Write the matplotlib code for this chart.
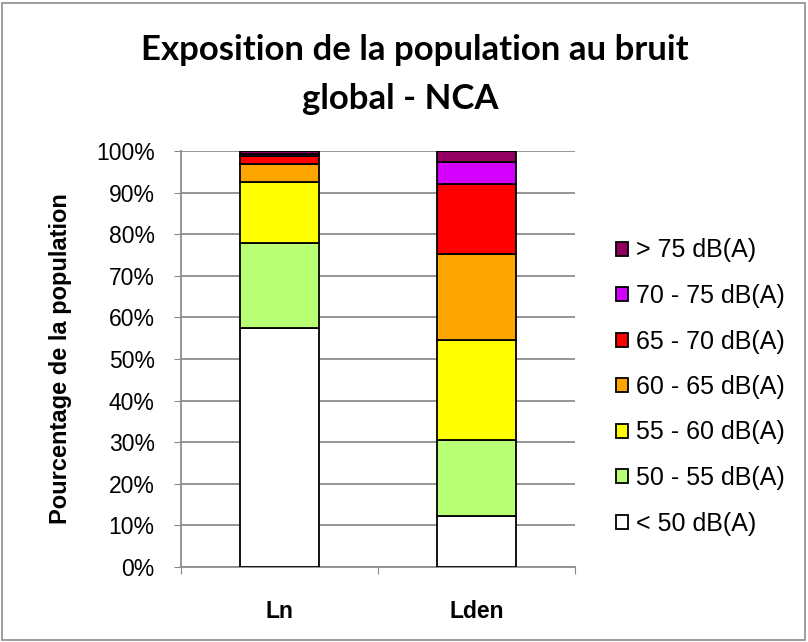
import numpy as np
import matplotlib.pyplot as plt
from matplotlib.patches import Rectangle

plt.rcParams['font.family'] = ['Liberation Sans', 'DejaVu Sans']

# Data (percent of population per noise band)
categories = ["Ln", "Lden"]
bands = ["< 50 dB(A)", "50 - 55 dB(A)", "55 - 60 dB(A)", "60 - 65 dB(A)",
         "65 - 70 dB(A)", "70 - 75 dB(A)", "> 75 dB(A)"]
ln_values = [57.4, 20.5, 14.7, 4.2, 2.0, 0.5, 0.7]
lden_values = [12.2, 18.3, 24.0, 20.7, 16.8, 5.3, 2.7]
colors = ["#FFFFFF", "#B9FF73", "#FFFF00", "#FFA500", "#FF0000", "#D400FF", "#910060"]

values = np.array([ln_values, lden_values]).T

fig = plt.figure(figsize=(8.08, 6.42), dpi=100)
ax = fig.add_axes([181/808, 1 - 567/642, 394/808, 416/642])

x = np.arange(len(categories))
bottom = np.zeros(len(categories))
for i, band in enumerate(bands):
    ax.bar(x, values[i], 0.4, bottom=bottom, color=colors[i],
           edgecolor="black", linewidth=1.3, label=band, zorder=3)
    bottom += values[i]

ax.set_xlim(-0.5, 1.5)
ax.set_ylim(0, 100)
ax.set_yticks(np.arange(0, 101, 10))
ax.set_yticklabels([f"{v}%" for v in range(0, 101, 10)], fontsize=16.5)
ax.set_xticks([-0.5, 0.5, 1.5], minor=False)
ax.set_xticklabels([])
ax.set_xticks(x, minor=True)
ax.set_xticklabels(categories, minor=True, fontsize=16.5, fontweight="bold")
ax.tick_params(axis="x", which="minor", length=0, pad=24)
ax.tick_params(axis="x", which="major", length=5, color="#888888", direction="out")
ax.tick_params(axis="y", length=5, color="#888888", direction="out", pad=14)
ax.grid(axis="y", color="#8C8C8C", linewidth=1.3, zorder=0)
for s in ["top", "right"]:
    ax.spines[s].set_visible(False)
for s in ["left", "bottom"]:
    ax.spines[s].set_color("#8C8C8C")
    ax.spines[s].set_linewidth(1.3)

ax.set_ylabel("Pourcentage de la population", fontsize=17, fontweight="bold", labelpad=17)

handles, labels = ax.get_legend_handles_labels()
leg = fig.legend(handles[::-1], labels[::-1], loc="upper left",
                 bbox_to_anchor=(598/808, 1 - 221/642), frameon=False,
                 fontsize=18, handlelength=0.5, handleheight=0.5,
                 handletextpad=0.3, labelspacing=0.86, borderpad=0.2)

fig.text(0.513, 1 - 50/642, "Exposition de la population au bruit",
         ha="center", va="center", fontsize=25, fontweight="bold", family=["Lato", "DejaVu Sans"])
fig.text(400/808, 1 - 99/642, "global - NCA",
         ha="center", va="center", fontsize=25, fontweight="bold", family=["Lato", "DejaVu Sans"])

fig.patches.append(Rectangle((2/808, 2/642), 803/808, 637/642, transform=fig.transFigure,
                             fill=False, edgecolor="#8C8C8C", linewidth=1.2))

fig.savefig("out.png", dpi=100)
